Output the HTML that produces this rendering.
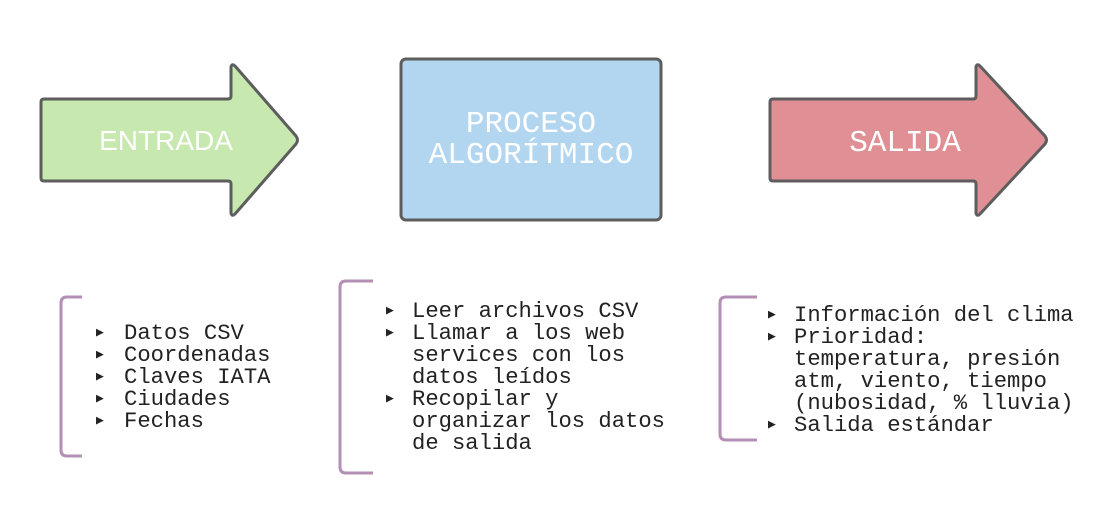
<!DOCTYPE html>
<html><head><meta charset="utf-8"><style>
body{margin:0;background:#fff;}
svg{display:block}
.m{font-family:"Liberation Mono",monospace;font-size:22.2px;fill:#222}
.b{font-size:13px}
</style></head><body>
<svg width="1113" height="524" viewBox="0 0 1113 524">
<path d="M44,99 L228,99 Q231,99 231,96 L231,67 Q232,63 235,66 L296,136 Q299,140 296,144 L235,214 Q232,217 231,213 L231,184 Q231,181 228,181 L44,181 Q41,181 41,178 L41,102 Q41,99 44,99 Z" fill="#c7e8ae" stroke="#5d5d5d" stroke-width="3" stroke-linejoin="round"/>
<text x="166" y="150" text-anchor="middle" font-family="Liberation Sans,sans-serif" font-size="28" fill="#fff">ENTRADA</text>
<rect x="401" y="59" width="260" height="161" rx="5" fill="#b2d5f0" stroke="#5d5d5d" stroke-width="3"/>
<text x="531" y="132" text-anchor="middle" font-family="Liberation Mono,monospace" font-size="31" fill="#fff">PROCESO</text>
<text x="531" y="163" text-anchor="middle" font-family="Liberation Mono,monospace" font-size="31" fill="#fff">ALGORÍTMICO</text>
<path d="M773,99 L973,99 Q976,99 976,96 L976,67 Q977,63 980,66 L1045,136 Q1048,140 1045,144 L980,214 Q977,217 976,213 L976,184 Q976,181 973,181 L773,181 Q770,181 770,178 L770,102 Q770,99 773,99 Z" fill="#e09095" stroke="#5d5d5d" stroke-width="3" stroke-linejoin="round"/>
<text x="905" y="151" text-anchor="middle" font-family="Liberation Mono,monospace" font-size="31" fill="#fff">SALIDA</text>
<g fill="none" stroke="#b48fb5" stroke-width="3">
<path d="M82,297 L67,297 Q61,297 61,303 L61,450 Q61,456 67,456 L82,456"/>
<path d="M373,281 L346,281 Q340,281 340,287 L340,467 Q340,473 346,473 L373,473"/>
<path d="M757,297 L726,297 Q720,297 720,303 L720,434 Q720,440 726,440 L757,440"/>
</g>
<g class="m">
<text x="96" y="336" class="b">▶</text><text x="124" y="339">Datos CSV</text>
<text x="96" y="358" class="b">▶</text><text x="124" y="361">Coordenadas</text>
<text x="96" y="380" class="b">▶</text><text x="124" y="383">Claves IATA</text>
<text x="96" y="402" class="b">▶</text><text x="124" y="405">Ciudades</text>
<text x="96" y="424" class="b">▶</text><text x="124" y="427">Fechas</text>

<text x="386" y="314" class="b">▶</text><text x="412" y="317">Leer archivos CSV</text>
<text x="386" y="336" class="b">▶</text><text x="412" y="339">Llamar a los web</text>
<text x="412" y="361">services con los</text>
<text x="412" y="383">datos leídos</text>
<text x="386" y="402" class="b">▶</text><text x="412" y="405">Recopilar y</text>
<text x="412" y="427">organizar los datos</text>
<text x="412" y="449">de salida</text>

<text x="768" y="318" class="b">▶</text><text x="794" y="321">Información del clima</text>
<text x="768" y="340" class="b">▶</text><text x="794" y="343">Prioridad:</text>
<text x="794" y="365">temperatura, presión</text>
<text x="794" y="387">atm, viento, tiempo</text>
<text x="794" y="409">(nubosidad, % lluvia)</text>
<text x="768" y="428" class="b">▶</text><text x="794" y="431">Salida estándar</text>
</g>
</svg>
</body></html>
